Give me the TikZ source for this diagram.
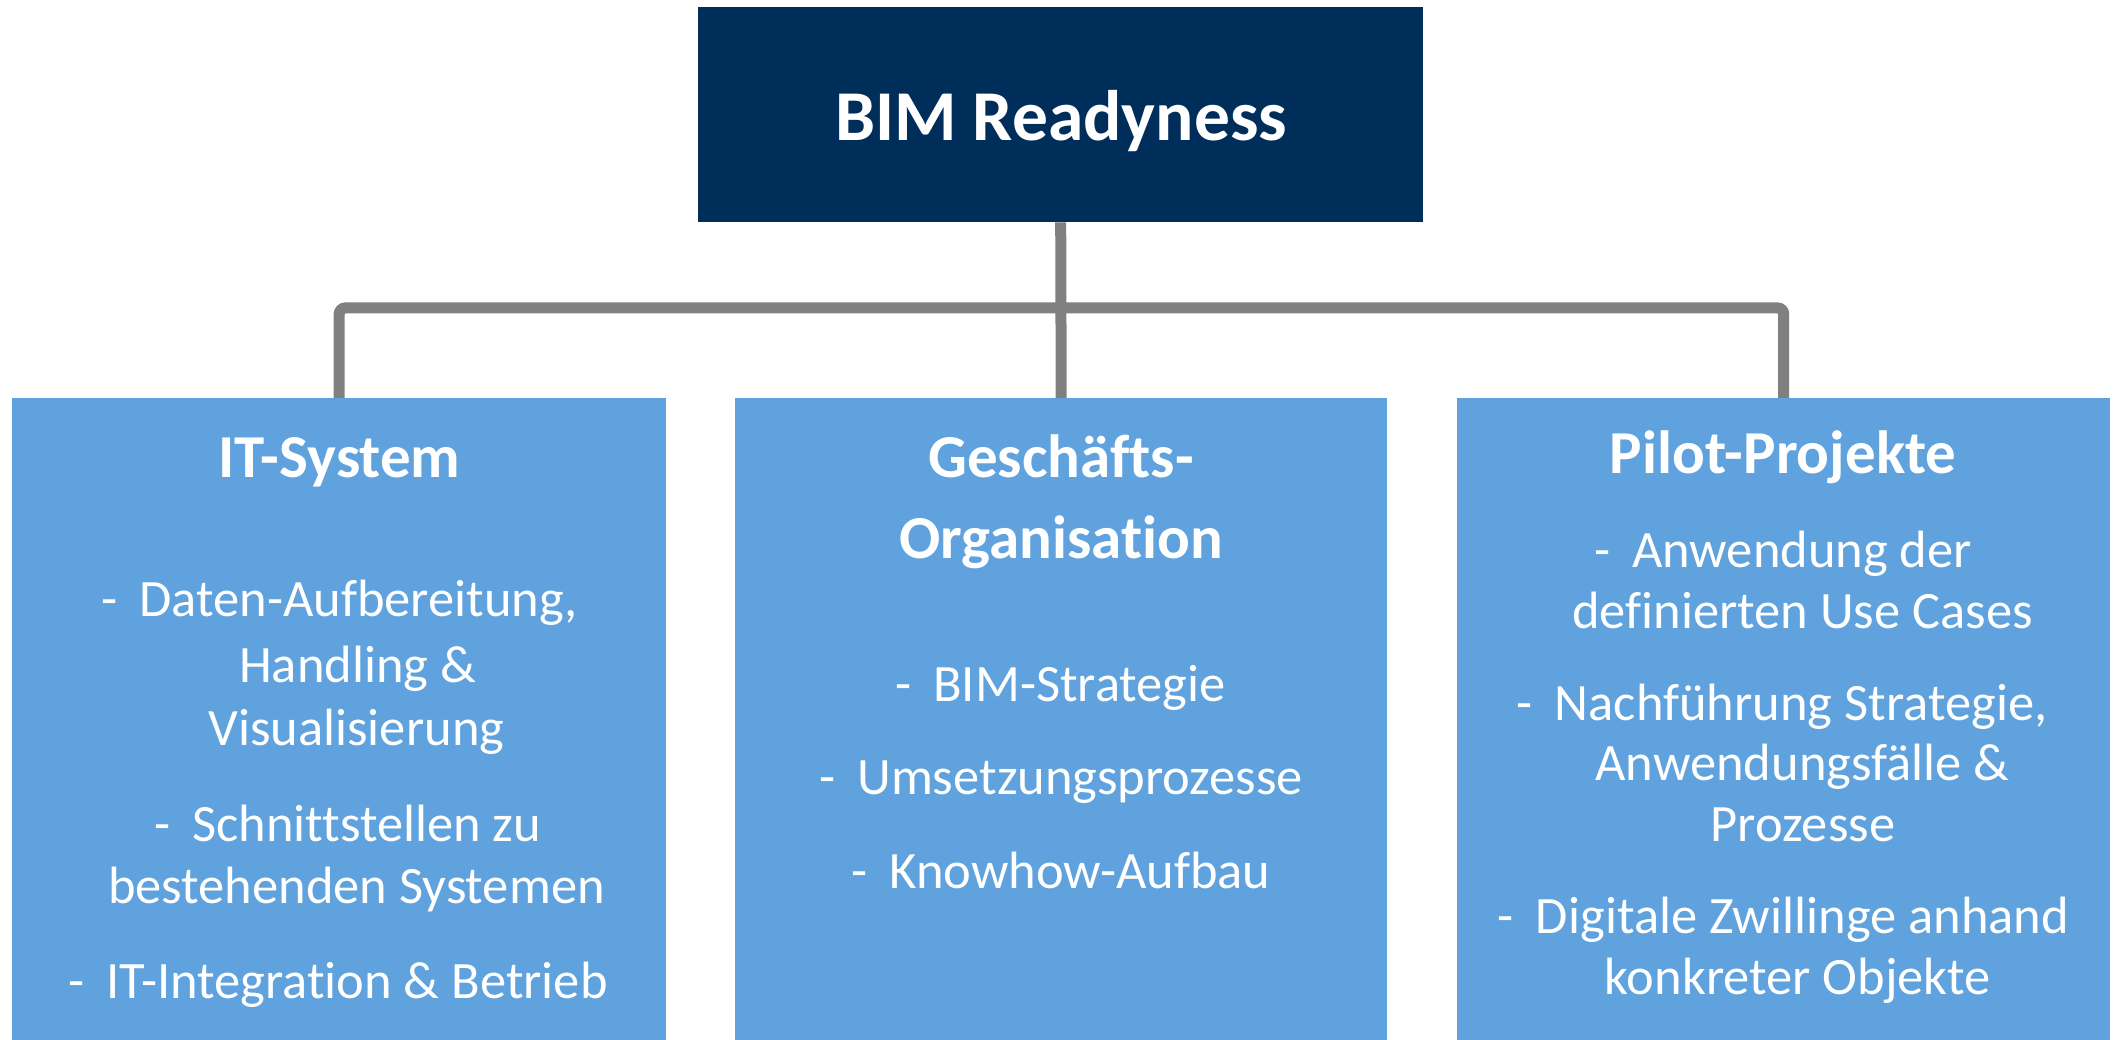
\documentclass[tikz,border=0pt]{standalone}
\usepackage{fontspec}
\setmainfont{Carlito}[Ligatures=NoCommon]
\definecolor{navy}{RGB}{0,46,91}
\definecolor{lblue}{RGB}{95,162,221}
\definecolor{cgray}{RGB}{128,128,128}
\newcommand\dsh{-\hspace{0.42em}}
\begin{document}
\begin{tikzpicture}[x=1pt,y=-1pt,
  topbox/.style={fill=navy,draw=none,rectangle,anchor=north west,inner sep=0pt},
  subbox/.style={fill=lblue,draw=none,rectangle,anchor=north west,inner sep=0pt,minimum height=642pt},
  conn/.style={draw=cgray,line width=11pt},
  ttl/.style={anchor=base,inner sep=0pt,text=white,font=\fontsize{71.5}{80}\selectfont\bfseries},
  hd/.style={anchor=base,inner sep=0pt,text=white,font=\fontsize{61}{70}\selectfont\bfseries},
  itm/.style={anchor=base,inner sep=0pt,text=white,font=\fontsize{52.5}{60}\selectfont}]
\path[use as bounding box,fill=white] (0,0) rectangle (2121,1040);
% boxes
\node[topbox,minimum width=725pt,minimum height=215pt] (top) at (698,7) {};
\node[subbox,minimum width=654pt] (it) at (12,398) {};
\node[subbox,minimum width=652pt] (geo) at (735,398) {};
\node[subbox,minimum width=653pt] (pilot) at (1457,398) {};
\coordinate (jn) at (1061,308);
% connectors
\draw[conn] (top.south) -- (geo.north);
\draw[conn,rounded corners=6pt] (it.north) |- (jn) -| (pilot.north);
% title
\node[ttl] (ttop) at (1061,141) {BIM Readyness};
% IT-System
\node[hd] (hit) at (339.5,477) {IT-System};
\node[itm] (it1) at (339.5,616) {\dsh Daten-Aufbereitung,};
\node[itm] (it2) at (357.8,682) {Handling \&};
\node[itm] (it3) at (356.4,745) {Visualisierung};
\node[itm] (it4) at (347.6,841) {\dsh Schnittstellen zu};
\node[itm] (it5) at (356.4,903) {bestehenden Systemen};
\node[itm] (it6) at (338,998) {\dsh IT-Integration \& Betrieb};
% Geschaefts-Organisation
\node[hd] (hgeo1) at (1061,478) {Geschäfts-};
\node[hd] (hgeo2) at (1061,558) {Organisation};
\node[itm] (geo1) at (1060.5,701) {\dsh BIM-Strategie};
\node[itm] (geo2) at (1061,794) {\dsh Umsetzungsprozesse};
\node[itm] (geo3) at (1061,888) {\dsh Knowhow-Aufbau};
% Pilot-Projekte
\node[hd] (hpil) at (1783,474) {Pilot-Projekte};
\node[itm] (pil1) at (1783,567) {\dsh Anwendung der};
\node[itm] (pil2) at (1802.5,628) {definierten Use Cases};
\node[itm] (pil3) at (1782,720) {\dsh Nachführung Strategie,};
\node[itm] (pil4) at (1802.5,780) {Anwendungsfälle \&};
\node[itm] (pil5) at (1803,841) {Prozesse};
\node[itm] (pil6) at (1783.5,933) {\dsh Digitale Zwillinge anhand};
\node[itm] (pil7) at (1797.7,994) {konkreter Objekte};
\end{tikzpicture}
\end{document}
